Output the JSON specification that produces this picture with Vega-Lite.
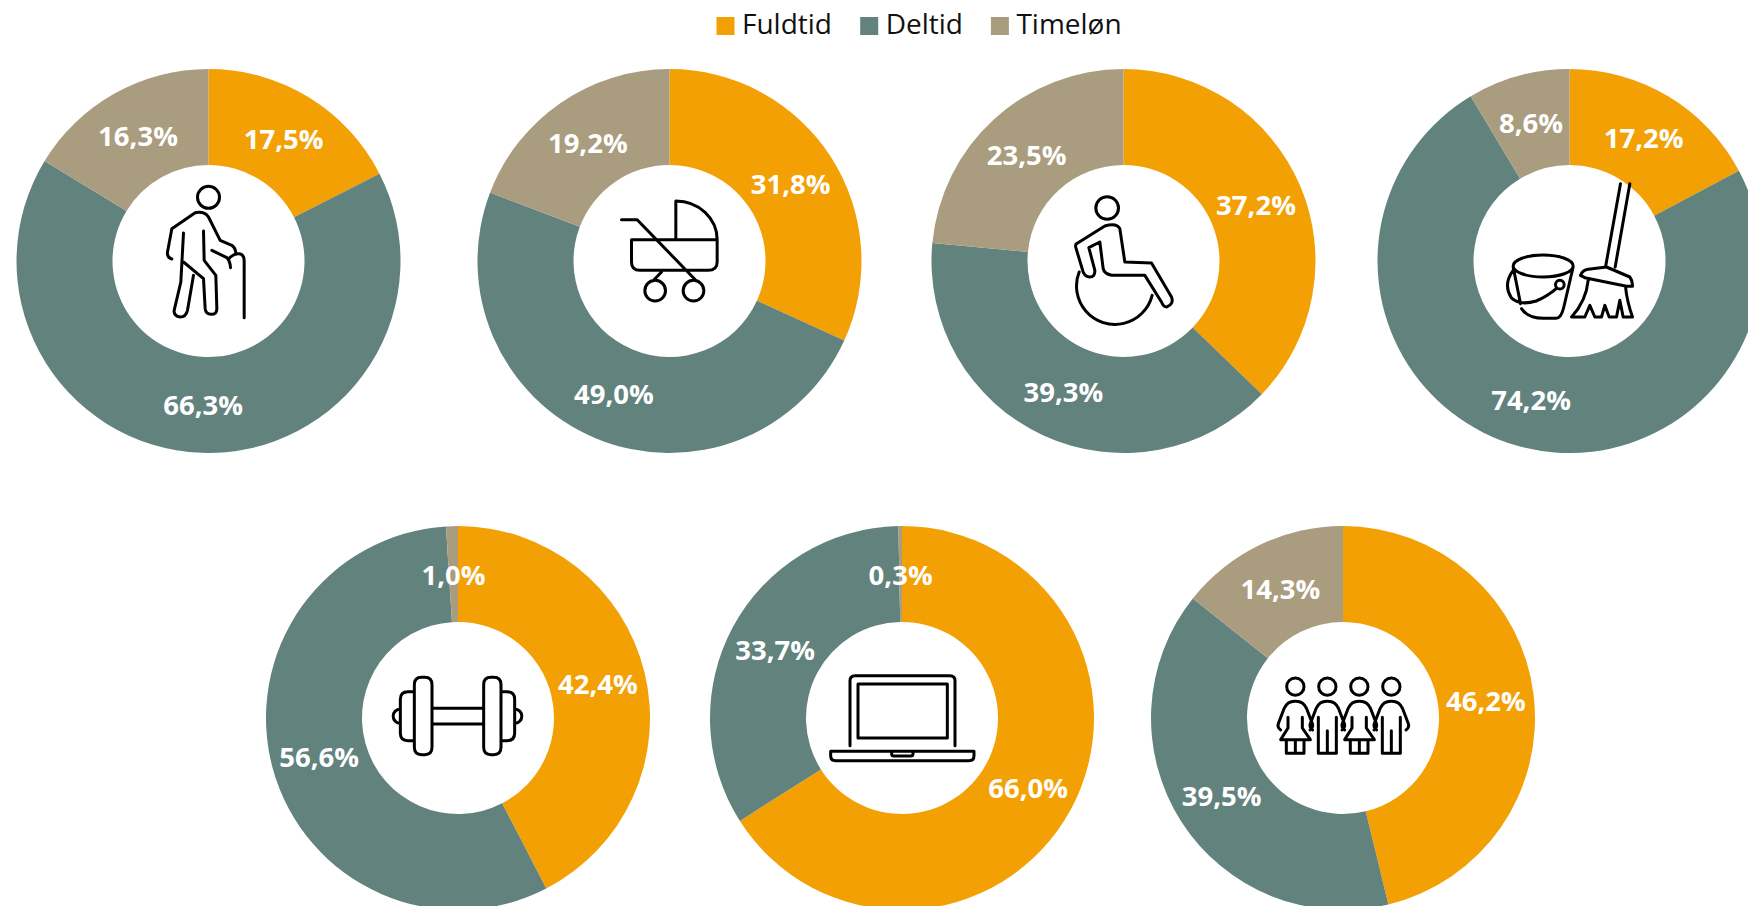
{"$schema":"https://vega.github.io/schema/vega-lite/v6.json","background":"white","padding":{"left":8.5,"top":12,"right":0,"bottom":0},"data":{"values":[
{"panel":"aeldre","category":"Fuldtid","rank":1,"share":17.5,"label":"17,5%"},{"panel":"aeldre","category":"Deltid","rank":2,"share":66.3,"label":"66,3%"},{"panel":"aeldre","category":"Timeløn","rank":3,"share":16.3,"label":"16,3%"},
{"panel":"boern","category":"Fuldtid","rank":1,"share":31.8,"label":"31,8%"},{"panel":"boern","category":"Deltid","rank":2,"share":49.0,"label":"49,0%"},{"panel":"boern","category":"Timeløn","rank":3,"share":19.2,"label":"19,2%"},
{"panel":"handicap","category":"Fuldtid","rank":1,"share":37.2,"label":"37,2%"},{"panel":"handicap","category":"Deltid","rank":2,"share":39.3,"label":"39,3%"},{"panel":"handicap","category":"Timeløn","rank":3,"share":23.5,"label":"23,5%"},
{"panel":"rengoering","category":"Fuldtid","rank":1,"share":17.2,"label":"17,2%"},{"panel":"rengoering","category":"Deltid","rank":2,"share":74.2,"label":"74,2%"},{"panel":"rengoering","category":"Timeløn","rank":3,"share":8.6,"label":"8,6%"},
{"panel":"fitness","category":"Fuldtid","rank":1,"share":42.4,"label":"42,4%"},{"panel":"fitness","category":"Deltid","rank":2,"share":56.6,"label":"56,6%"},{"panel":"fitness","category":"Timeløn","rank":3,"share":1.0,"label":"1,0%"},
{"panel":"it","category":"Fuldtid","rank":1,"share":66.0,"label":"66,0%"},{"panel":"it","category":"Deltid","rank":2,"share":33.7,"label":"33,7%"},{"panel":"it","category":"Timeløn","rank":3,"share":0.3,"label":"0,3%"},
{"panel":"alle","category":"Fuldtid","rank":1,"share":46.2,"label":"46,2%"},{"panel":"alle","category":"Deltid","rank":2,"share":39.5,"label":"39,5%"},{"panel":"alle","category":"Timeløn","rank":3,"share":14.3,"label":"14,3%"}
]},
"center":true,"spacing":57,
"vconcat":[
{"spacing":33,"hconcat":[
{"width":400,"height":400,"transform":[{"filter":"datum.panel=='aeldre'"}],"layer":[
{"mark":{"type":"arc","innerRadius":96,"outerRadius":192},"encoding":{"theta":{"field":"share","type":"quantitative","stack":true},"color":{"field":"category","type":"nominal","sort":null,"scale":{"domain":["Fuldtid","Deltid","Timeløn"],"range":["#F3A005","#62827E","#AA9C7E"]},"legend":{"title":null}},"order":{"field":"rank"}}},
{"mark":{"type":"text","radius":144,"font":"Open Sans","fontWeight":"bold","fontSize":27.5,"fill":"white","baseline":"middle","dy":2.5},"encoding":{"theta":{"field":"share","type":"quantitative","stack":true},"detail":{"field":"category"},"order":{"field":"rank"},"text":{"field":"label"}}},
{"transform":[{"filter":"datum.rank==1"}],"mark":{"type":"point","size":0.4444,"filled":false,"opacity":1,"stroke":"black","strokeWidth":3,"strokeCap":"round","strokeJoin":"round","shape":"M33,-191 A33,33 0 1 1 -33,-191 A33,33 0 1 1 33,-191Z M-110,-6 Q-125,-10 -123,-27 L-110,-97 L-40,-145 Q-12,-150 0,-132 L35,-62 L70,-47 Q82,-40 82,-20 M10,-32 L55,-10 Q65,0 66,20 M107,170 L107,0 Q107,-22 90,-22 Q75,-22 62,-8 M-75,-84 L-83,63 L-103,148 Q-105,165 -85,168 Q-68,168 -63,148 L-45,43 M-75,3 L-15,53 L-10,143 Q-8,160 8,160 Q25,160 25,143 L22,43 L-13,-2 L-15,-90"}}
]},
{"width":456,"height":400,"transform":[{"filter":"datum.panel=='boern'"}],"layer":[
{"mark":{"type":"arc","innerRadius":96,"outerRadius":192},"encoding":{"theta":{"field":"share","type":"quantitative","stack":true},"color":{"field":"category","type":"nominal","sort":null,"scale":{"domain":["Fuldtid","Deltid","Timeløn"],"range":["#F3A005","#62827E","#AA9C7E"]},"legend":{"title":null}},"order":{"field":"rank"}}},
{"mark":{"type":"text","radius":144,"font":"Open Sans","fontWeight":"bold","fontSize":27.5,"fill":"white","baseline":"middle","dy":2.5},"encoding":{"theta":{"field":"share","type":"quantitative","stack":true},"detail":{"field":"category"},"order":{"field":"rank"},"text":{"field":"label"}}},
{"transform":[{"filter":"datum.rank==1"}],"mark":{"type":"point","size":0.4444,"filled":false,"opacity":1,"stroke":"black","strokeWidth":3,"strokeCap":"round","strokeJoin":"round","shape":"M-144,-124 L-97,-124 L81,60 M-114,-64 L143,-64 L143,3 Q143,28 116,28 L-89,28 Q-114,28 -114,3 Z M19,-64 L19,-180 A124,116 0 0 1 143,-64 M-24,33 L-50,60 M-12,89 A31,31 0 1 1 -74,89 A31,31 0 1 1 -12,89Z M103,89 A31,31 0 1 1 41,89 A31,31 0 1 1 103,89Z"}}
]},
{"width":386,"height":400,"transform":[{"filter":"datum.panel=='handicap'"}],"layer":[
{"mark":{"type":"arc","innerRadius":96,"outerRadius":192},"encoding":{"theta":{"field":"share","type":"quantitative","stack":true},"color":{"field":"category","type":"nominal","sort":null,"scale":{"domain":["Fuldtid","Deltid","Timeløn"],"range":["#F3A005","#62827E","#AA9C7E"]},"legend":{"title":null}},"order":{"field":"rank"}}},
{"mark":{"type":"text","radius":144,"font":"Open Sans","fontWeight":"bold","fontSize":27.5,"fill":"white","baseline":"middle","dy":2.5},"encoding":{"theta":{"field":"share","type":"quantitative","stack":true},"detail":{"field":"category"},"order":{"field":"rank"},"text":{"field":"label"}}},
{"transform":[{"filter":"datum.rank==1"}],"mark":{"type":"point","size":0.4444,"filled":false,"opacity":1,"stroke":"black","strokeWidth":3,"strokeCap":"round","strokeJoin":"round","shape":"M-15,-159 A34,34 0 1 1 -83,-159 A34,34 0 1 1 -15,-159Z M-141,-52 L-56,-105 Q-20,-115 -11,-97 L4,3 L84,6 L144,108 Q152,130 129,138 Q120,138 114,123 L64,43 L-36,43 Q-58,38 -61,23 L-71,-57 L-104,-40 L-86,28 Q-85,48 -101,48 Q-115,48 -121,33 L-143,-40 Q-145,-50 -141,-52 Z M-133,33 A115.2,115.2 0 1 0 86,103"}}
]},
{"width":440,"height":400,"transform":[{"filter":"datum.panel=='rengoering'"}],"layer":[
{"mark":{"type":"arc","innerRadius":96,"outerRadius":192},"encoding":{"theta":{"field":"share","type":"quantitative","stack":true},"color":{"field":"category","type":"nominal","sort":null,"scale":{"domain":["Fuldtid","Deltid","Timeløn"],"range":["#F3A005","#62827E","#AA9C7E"]},"legend":{"title":null}},"order":{"field":"rank"}}},
{"mark":{"type":"text","radius":144,"font":"Open Sans","fontWeight":"bold","fontSize":27.5,"fill":"white","baseline":"middle","dy":2.5},"encoding":{"theta":{"field":"share","type":"quantitative","stack":true},"detail":{"field":"category"},"order":{"field":"rank"},"text":{"field":"label"}}},
{"transform":[{"filter":"datum.rank==1"}],"mark":{"type":"point","size":0.4444,"filled":false,"opacity":1,"stroke":"black","strokeWidth":3,"strokeCap":"round","strokeJoin":"round","shape":"M11,15 A90,33 0 1 1 -169,15 A90,33 0 1 1 11,15Z M-169,18 L-147,128 M-144,143 Q-125,172 -79,172 L-40,172 Q-25,172 -17,138 L11,18 M-169,28 Q-200,70 -175,110 Q-150,135 -100,120 Q-65,105 -39,82 M-16,71 A13,13 0 1 1 -42,71 A13,13 0 1 1 -16,71Z M153,-232 L109,13 M181,-232 L137,18 M33,43 Q40,27 56,25 L111,18 L181,48 Q190,60 189,76 L171,76 L46,50 Z M56,58 Q50,120 6,168 L46,168 L61,133 L76,168 L96,168 L106,133 L119,168 L141,168 L151,118 L161,168 L189,168 Q172,120 168,76"}}
]}
]},
{"spacing":44,"hconcat":[
{"width":400,"height":400,"transform":[{"filter":"datum.panel=='fitness'"}],"layer":[
{"mark":{"type":"arc","innerRadius":96,"outerRadius":192},"encoding":{"theta":{"field":"share","type":"quantitative","stack":true},"color":{"field":"category","type":"nominal","sort":null,"scale":{"domain":["Fuldtid","Deltid","Timeløn"],"range":["#F3A005","#62827E","#AA9C7E"]},"legend":{"title":null}},"order":{"field":"rank"}}},
{"mark":{"type":"text","radius":144,"font":"Open Sans","fontWeight":"bold","fontSize":27.5,"fill":"white","baseline":"middle","dy":2.5},"encoding":{"theta":{"field":"share","type":"quantitative","stack":true},"detail":{"field":"category"},"order":{"field":"rank"},"text":{"field":"label"}}},
{"transform":[{"filter":"datum.rank==1"}],"mark":{"type":"point","size":0.4444,"filled":false,"opacity":1,"stroke":"black","strokeWidth":3,"strokeCap":"round","strokeJoin":"round","shape":"M-131,-100 Q-131,-122 -109,-122 L-100,-122 Q-78,-122 -78,-100 L-78,88 Q-78,110 -100,110 L-109,110 Q-131,110 -131,88 Z M77,-100 Q77,-122 99,-122 L107,-122 Q129,-122 129,-100 L129,88 Q129,110 107,110 L99,110 Q77,110 77,88 Z M-131,-79 L-150,-79 Q-173,-79 -173,-56 L-173,45 Q-173,68 -150,68 L-131,68 M129,-79 L147,-79 Q170,-79 170,-56 L170,45 Q170,68 147,68 L129,68 M-173,-27 A21,21 0 0 0 -173,16 M170,-27 A21,21 0 0 1 170,16 M-78,-29 L77,-29 M-78,18 L77,18"}}
]},
{"width":400,"height":400,"transform":[{"filter":"datum.panel=='it'"}],"layer":[
{"mark":{"type":"arc","innerRadius":96,"outerRadius":192},"encoding":{"theta":{"field":"share","type":"quantitative","stack":true},"color":{"field":"category","type":"nominal","sort":null,"scale":{"domain":["Fuldtid","Deltid","Timeløn"],"range":["#F3A005","#62827E","#AA9C7E"]},"legend":{"title":null}},"order":{"field":"rank"}}},
{"mark":{"type":"text","radius":144,"font":"Open Sans","fontWeight":"bold","fontSize":27.5,"fill":"white","baseline":"middle","dy":2.5},"encoding":{"theta":{"field":"share","type":"quantitative","stack":true},"detail":{"field":"category"},"order":{"field":"rank"},"text":{"field":"label"}}},
{"transform":[{"filter":"datum.rank==1"}],"mark":{"type":"point","size":0.4444,"filled":false,"opacity":1,"stroke":"black","strokeWidth":3,"strokeCap":"round","strokeJoin":"round","shape":"M-156,83 L-156,-112 Q-156,-127 -141,-127 L144,-127 Q159,-127 159,-112 L159,83 M-132,-102 L136,-102 L136,60 L-132,60 Z M-214,100 L216,100 L216,113 Q216,128 201,128 L-199,128 Q-214,128 -214,113 Z M-31,100 L-31,108 Q-31,114 -24,114 L26,114 Q33,114 33,108 L33,100"}}
]},
{"width":394,"height":400,"transform":[{"filter":"datum.panel=='alle'"}],"layer":[
{"mark":{"type":"arc","innerRadius":96,"outerRadius":192},"encoding":{"theta":{"field":"share","type":"quantitative","stack":true},"color":{"field":"category","type":"nominal","sort":null,"scale":{"domain":["Fuldtid","Deltid","Timeløn"],"range":["#F3A005","#62827E","#AA9C7E"]},"legend":{"title":null}},"order":{"field":"rank"}}},
{"mark":{"type":"text","radius":144,"font":"Open Sans","fontWeight":"bold","fontSize":27.5,"fill":"white","baseline":"middle","dy":2.5},"encoding":{"theta":{"field":"share","type":"quantitative","stack":true},"detail":{"field":"category"},"order":{"field":"rank"},"text":{"field":"label"}}},
{"transform":[{"filter":"datum.rank==1"}],"mark":{"type":"point","size":0.4444,"filled":false,"opacity":1,"stroke":"black","strokeWidth":3,"strokeCap":"round","strokeJoin":"round","shape":"M-117,-94 A26,26 0 1 1 -169,-94 A26,26 0 1 1 -117,-94Z M-21,-94 A26,26 0 1 1 -73,-94 A26,26 0 1 1 -21,-94Z M75,-94 A26,26 0 1 1 23,-94 A26,26 0 1 1 75,-94Z M171,-94 A26,26 0 1 1 119,-94 A26,26 0 1 1 171,-94Z M-187,36 Q-199,28 -193,14 L-177,-28 Q-167,-50 -145,-50 L-141,-50 Q-119,-50 -109,-28 L-93,14 Q-87,28 -99,36 M-165,-2 L-165,30 L-187,65 L-98,65 L-122,30 L-122,-2 M-170,65 L-170,106 L-117,106 L-117,65 M-143,65 L-143,106 M-91,36 Q-103,28 -97,14 L-81,-28 Q-71,-50 -49,-50 L-45,-50 Q-23,-50 -13,-28 L3,14 Q9,28 -3,36 M-74,-2 L-74,106 L-20,106 L-20,-2 M-47,38 L-47,106 M5,36 Q-7,28 -1,14 L15,-28 Q25,-50 47,-50 L51,-50 Q73,-50 83,-28 L99,14 Q105,28 93,36 M27,-2 L27,30 L5,65 L94,65 L70,30 L70,-2 M22,65 L22,106 L75,106 L75,65 M49,65 L49,106 M101,36 Q89,28 95,14 L111,-28 Q121,-50 143,-50 L147,-50 Q169,-50 179,-28 L195,14 Q201,28 189,36 M118,-2 L118,106 L172,106 L172,-2 M145,38 L145,106"}}
]}
]}
],
"config":{"view":{"stroke":null},"legend":{"orient":"none","legendX":703,"legendY":-49,"direction":"horizontal","columns":3,"columnPadding":22.7,"padding":0,"symbolType":"square","symbolSize":324,"symbolStrokeWidth":0,"labelFont":"Open Sans","labelFontSize":28,"labelColor":"#111111","labelOffset":2.5,"labelLimit":200}}
}
